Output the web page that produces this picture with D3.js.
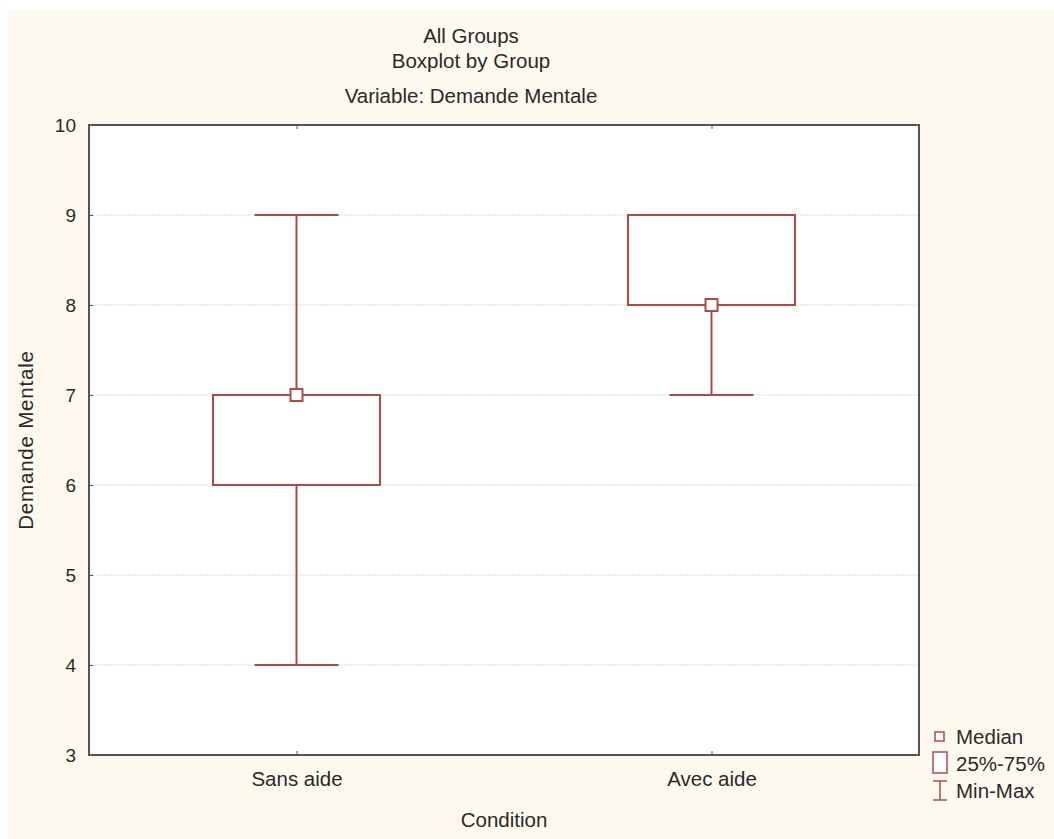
<!DOCTYPE html>
<html><head><meta charset="utf-8">
<script src="https://cdn.jsdelivr.net/npm/d3@7"></script>
<style>body{margin:0;background:#fff}svg{display:block}text{font-family:"Liberation Sans",Arial,sans-serif;fill:#2a2a2a}</style>
</head><body><svg id="c" width="1054" height="839"></svg>
<script>
const categories = ["Sans aide", "Avec aide"];
const minVals = [4, 7];
const q1Vals = [6, 8];
const medianVals = [7, 8];
const q3Vals = [7, 9];
const maxVals = [9, 9];
const yTicks = [3, 4, 5, 6, 7, 8, 9, 10];
const titleLines = ["All Groups", "Boxplot by Group"];
const subtitle = "Variable: Demande Mentale";
const legendItems = ["Median", "25%-75%", "Min-Max"];

const svg = d3.select("#c");
const col = "#b5474b";
const L = 89, R = 919, T = 125, B = 755;
const fs = 20.5;
svg.append("rect").attr("x", 8).attr("y", 10).attr("width", 1046).attr("height", 829).attr("fill", "#fef9ef");
svg.append("rect").attr("x", L).attr("y", T).attr("width", R - L).attr("height", B - T).attr("fill", "#fff");

const x = d3.scalePoint().domain(categories).range([L, R]).padding(0.5);
const y = d3.scaleLinear().domain([3, 10]).range([B, T]);

// grid
svg.append("g").selectAll("line").data(yTicks.filter(t => t > 3 && t < 10)).join("line")
  .attr("x1", L).attr("x2", R).attr("y1", d => y(d)).attr("y2", d => y(d))
  .attr("stroke", "#d8d8d8").attr("stroke-width", 1).attr("stroke-dasharray", "2,1");

// axes
const yAxis = svg.append("g").attr("transform", `translate(${L},0)`)
  .call(d3.axisLeft(y).tickValues(yTicks).tickSize(-4).tickPadding(13).tickFormat(d3.format("d")));
yAxis.select(".domain").remove();
yAxis.selectAll("line").attr("stroke", "#555");
yAxis.selectAll("text").attr("font-size", 19).style("font-family", "'Liberation Sans',Arial,sans-serif").attr("fill", "#222");

const xAxis = svg.append("g").attr("transform", `translate(0,${B})`)
  .call(d3.axisBottom(x).tickSize(-4).tickPadding(16));
xAxis.select(".domain").remove();
xAxis.selectAll("line").attr("stroke", "#555");
xAxis.selectAll("text").attr("font-size", fs).style("font-family", "'Liberation Sans',Arial,sans-serif").attr("fill", "#2a2a2a");

const xTop = svg.append("g").attr("transform", `translate(0,${T})`)
  .call(d3.axisTop(x).tickSize(-4).tickFormat(""));
xTop.select(".domain").remove();
xTop.selectAll("line").attr("stroke", "#555");

svg.append("rect").attr("x", L).attr("y", T).attr("width", R - L).attr("height", B - T)
  .attr("fill", "none").attr("stroke", "#555").attr("stroke-width", 2);

// boxes
const boxW = 167, capW = 84, med = 12;
const g = svg.append("g");
categories.forEach((c, i) => {
  const cx = x(c);
  g.append("line").attr("x1", cx).attr("x2", cx).attr("y1", y(maxVals[i])).attr("y2", y(minVals[i])).attr("stroke", col).attr("stroke-width", 2);
  [minVals[i], maxVals[i]].forEach(v => g.append("line").attr("x1", cx - capW / 2).attr("x2", cx + capW / 2).attr("y1", y(v)).attr("y2", y(v)).attr("stroke", col).attr("stroke-width", 2));
  g.append("rect").attr("x", cx - boxW / 2).attr("width", boxW).attr("y", y(q3Vals[i])).attr("height", y(q1Vals[i]) - y(q3Vals[i]))
    .attr("fill", "#fff").attr("stroke", col).attr("stroke-width", 2);
  g.append("rect").attr("x", cx - med / 2).attr("y", y(medianVals[i]) - med / 2).attr("width", med).attr("height", med)
    .attr("fill", "#fff").attr("stroke", col).attr("stroke-width", 2);
});

// titles
const tx = 471;
svg.append("text").attr("x", tx).attr("y", 43).attr("text-anchor", "middle").attr("font-size", fs).text(titleLines[0]);
svg.append("text").attr("x", tx).attr("y", 68).attr("text-anchor", "middle").attr("font-size", fs).text(titleLines[1]);
svg.append("text").attr("x", tx).attr("y", 103).attr("text-anchor", "middle").attr("font-size", fs).text(subtitle);
svg.append("text").attr("x", 504).attr("y", 827).attr("text-anchor", "middle").attr("font-size", fs).text("Condition");
svg.append("text").attr("transform", "translate(33,440) rotate(-90)").attr("text-anchor", "middle").attr("font-size", fs)
  .attr("letter-spacing", 0.8).text("Demande Mentale");

// legend
const lg = svg.append("g");
lg.append("rect").attr("x", 935).attr("y", 732).attr("width", 9).attr("height", 9).attr("fill", "#fff").attr("stroke", col).attr("stroke-width", 1.5);
lg.append("rect").attr("x", 933).attr("y", 752).attr("width", 14).attr("height", 21).attr("fill", "#fff").attr("stroke", col).attr("stroke-width", 1.5);
lg.append("line").attr("x1", 940).attr("x2", 940).attr("y1", 781).attr("y2", 800).attr("stroke", col).attr("stroke-width", 1.5);
lg.append("line").attr("x1", 933).attr("x2", 947).attr("y1", 781).attr("y2", 781).attr("stroke", col).attr("stroke-width", 1.5);
lg.append("line").attr("x1", 933).attr("x2", 947).attr("y1", 800).attr("y2", 800).attr("stroke", col).attr("stroke-width", 1.5);
[744, 771, 798].forEach((yy, i) => lg.append("text").attr("x", 956).attr("y", yy).attr("font-size", fs).text(legendItems[i]));
</script></body></html>
